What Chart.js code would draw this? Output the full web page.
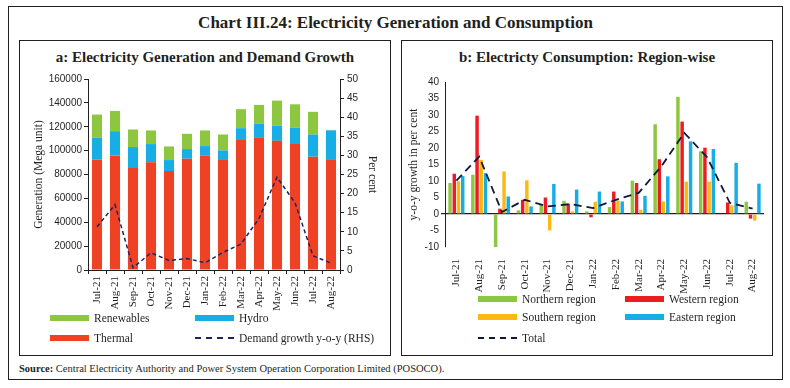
<!DOCTYPE html>
<html lang="en">
<head>
<meta charset="UTF-8">
<title>Chart III.24</title>
<script src="https://cdn.jsdelivr.net/npm/chart.js@4.4.0/dist/chart.umd.min.js"></script>
<style>
  body { margin: 0; background: #fff; font-family: "Liberation Serif", serif; color: #231f20; }
  .frame { position: absolute; left: 8px; top: 6px; width: 775px; height: 374px; border: 1.5px solid #231f20; box-sizing: border-box; }
  .panel { position: absolute; top: 40px; height: 316px; border: 1.5px solid #231f20; box-sizing: border-box; }
  .title { position: absolute; left: 8px; width: 775px; top: 13px; text-align: center; font-weight: bold; font-size: 17px; }
  .ptitle { position: absolute; top: 8px; width: 100%; text-align: center; font-weight: bold; font-size: 15px; }
  .box { position: absolute; }
  .lg { position: absolute; font-size: 11.5px; white-space: nowrap; }
  .lg span.sw { display: inline-block; width: 39px; height: 6px; vertical-align: middle; margin-right: 5px; position: relative; top: -1px; }
  .lg span.dash { display: inline-block; width: 39px; height: 0; border-top: 2px dashed; vertical-align: middle; margin-right: 5px; position: relative; top: -1px; }
  .src { position: absolute; left: 19px; top: 363px; font-size: 10.5px; }
</style>
</head>
<body>
<div class="frame"></div>
<div class="title">Chart III.24: Electricity Generation and Consumption</div>

<div class="panel" style="left:19px; width:372px;">
  <div class="ptitle">a: Electricity Generation and Demand Growth</div>
</div>
<div class="panel" style="left:401px; width:372px;">
  <div class="ptitle">b: Electricty Consumption: Region-wise</div>
</div>

<div class="box" style="left:20px; top:70px; width:370px; height:245px;"><canvas id="genChart"></canvas></div>
<div class="box" style="left:402px; top:70px; width:370px; height:225px;"><canvas id="regChart"></canvas></div>

<div id="legA"></div>
<div id="legB"></div>

<div class="src"><b>Source:</b> Central Electricity Authority and Power System Operation Corporation Limited (POSOCO).</div>

<script>
  // months (same for both panels)
  const months = ['Jul-21', 'Aug-21', 'Sep-21', 'Oct-21', 'Nov-21', 'Dec-21', 'Jan-22',
                  'Feb-22', 'Mar-22', 'Apr-22', 'May-22', 'Jun-22', 'Jul-22', 'Aug-22'];

  // panel a: generation (Mega unit)
  const thermal    = [92400, 96000, 85400, 90200, 82900, 93200, 95700, 92700, 108800, 111300, 108200, 105500, 94900, 92700];
  const hydro      = [18300, 20300, 17600, 15300, 9200, 8100, 8100, 7500, 10000, 11400, 12800, 13600, 18600, 24200];
  const renewables = [19500, 17000, 14700, 11400, 11400, 12800, 13100, 13300, 15900, 15600, 20900, 19700, 19000, 500];
  const demandGrowth = [11.3, 17.1, 0.6, 4.5, 2.5, 3.0, 1.9, 4.6, 6.8, 13.5, 24.3, 17.6, 3.7, 1.8];

  // panel b: y-o-y growth in per cent, by region
  const northern = [9.4, 11.9, -10.0, 1.1, 2.8, 4.0, 0.8, 2.1, 10.1, 27.2, 35.5, 19.0, 0.0, 3.7];
  const western  = [12.2, 29.8, 1.6, 4.3, 5.0, 3.1, -1.0, 6.8, 9.4, 16.6, 28.0, 20.1, 3.5, -1.4];
  const southern = [9.9, 16.4, 12.9, 10.2, -5.0, 0.8, 3.7, 4.1, 1.3, 3.8, 9.8, 9.8, 2.6, -2.0];
  const eastern  = [11.5, 12.4, 5.3, 2.3, 9.1, 7.4, 6.8, 3.8, 5.5, 11.4, 22.0, 19.7, 15.5, 9.2];
  const total    = [10.1, 17.4, 0.6, 4.3, 2.3, 3.0, 1.8, 4.3, 6.4, 14.5, 24.6, 17.2, 3.4, 1.6];

  const INK = '#231f20';
  const tickFont = { family: 'Liberation Sans', size: 10 };
  const catFont = { family: 'Liberation Serif', size: 11 };
  const titleFont = { family: 'Liberation Serif', size: 11.5 };

  // ---------- panel a ----------
  const genData = {
    labels: months,
    datasets: [
      { type: 'line', label: 'Demand growth y-o-y (RHS)', data: demandGrowth, yAxisID: 'y1',
        borderColor: '#1b2563', borderWidth: 1.5, borderDash: [4, 3], pointRadius: 0, tension: 0, order: 0 },
      { label: 'Thermal', data: thermal, backgroundColor: '#ef4123', stack: 's', order: 1 },
      { label: 'Hydro', data: hydro, backgroundColor: '#16aee5', stack: 's', order: 1 },
      { label: 'Renewables', data: renewables, backgroundColor: '#8dc63f', stack: 's', order: 1 }
    ]
  };

  new Chart(document.getElementById('genChart'), {
    type: 'bar',
    data: genData,
    options: {
      responsive: true,
      maintainAspectRatio: false,
      animation: false,
      layout: { padding: { top: 8 } },
      plugins: { legend: { display: false }, tooltip: { enabled: false } },
      datasets: { bar: { barPercentage: 0.56, categoryPercentage: 1 } },
      scales: {
        x: {
          stacked: true,
          grid: { display: true, drawOnChartArea: false, offset: true, tickLength: 4, color: INK },
          border: { color: INK, width: 1 },
          ticks: { font: catFont, color: INK, minRotation: 90, maxRotation: 90, autoSkip: false, padding: 2 },
          afterFit: (s) => { s.height = 45; }
        },
        y: {
          stacked: true,
          min: 0, max: 160000,
          grid: { drawOnChartArea: false, tickLength: 4, color: INK },
          border: { color: INK, width: 1 },
          ticks: { stepSize: 20000, font: tickFont, color: INK, padding: 2, callback: (v) => String(v) },
          title: { display: true, text: 'Generation (Mega unit)', font: titleFont, color: INK, padding: { top: 12 } },
          afterFit: (s) => { s.width = 68; }
        },
        y1: {
          position: 'right',
          min: 0, max: 50,
          grid: { drawOnChartArea: false, tickLength: 4, color: INK },
          border: { color: INK, width: 1 },
          ticks: { stepSize: 5, font: tickFont, color: INK, padding: 3 },
          title: { display: true, text: 'Per cent', font: titleFont, color: INK, padding: { top: 11 } },
          afterFit: (s) => { s.width = 50; }
        }
      }
    }
  });

  // ---------- panel b ----------
  const regData = {
    labels: months,
    datasets: [
      { type: 'line', label: 'Total', data: total, borderColor: '#0d1a3a', borderWidth: 1.8,
        borderDash: [8, 5], pointRadius: 0, tension: 0, order: 0 },
      { label: 'Northern region', data: northern, backgroundColor: '#8dc63f', order: 1 },
      { label: 'Western region', data: western, backgroundColor: '#ed1c24', order: 1 },
      { label: 'Southern region', data: southern, backgroundColor: '#fdb913', order: 1 },
      { label: 'Eastern region', data: eastern, backgroundColor: '#16aee5', order: 1 }
    ]
  };

  new Chart(document.getElementById('regChart'), {
    type: 'bar',
    data: regData,
    options: {
      responsive: true,
      maintainAspectRatio: false,
      animation: false,
      layout: { padding: { top: 12, right: 8 } },
      plugins: { legend: { display: false }, tooltip: { enabled: false } },
      datasets: { bar: { barPercentage: 0.82, categoryPercentage: 0.74 } },
      scales: {
        x: {
          grid: { display: false },
          border: { display: false },
          ticks: { font: catFont, color: INK, minRotation: 90, maxRotation: 90, autoSkip: false, padding: 4 },
          afterFit: (s) => { s.height = 48; }
        },
        y: {
          min: -10, max: 40,
          grid: {
            drawOnChartArea: true, drawTicks: true, tickLength: 4,
            color: (c) => (c.tick && c.tick.value === 0) ? INK : 'rgba(0,0,0,0)',
            lineWidth: 1.2
          },
          border: { color: INK, width: 1 },
          ticks: { stepSize: 5, font: tickFont, color: INK, padding: 2 },
          title: { display: true, text: 'y-o-y growth in per cent', font: titleFont, color: INK, padding: { top: 5 } },
          afterFit: (s) => { s.width = 43; }
        }
      }
    }
  });

  // ---------- legends ----------
  function legendItem(ds, x, y, host) {
    const el = document.createElement('div');
    el.className = 'lg';
    el.style.left = x + 'px';
    el.style.top = y + 'px';
    const mark = document.createElement('span');
    if (ds.type === 'line') {
      mark.className = 'dash';
      mark.style.borderColor = ds.borderColor;
    } else {
      mark.className = 'sw';
      mark.style.background = ds.backgroundColor;
    }
    el.appendChild(mark);
    el.appendChild(document.createTextNode(ds.label));
    host.appendChild(el);
  }

  const legA = document.getElementById('legA');
  const gd = genData.datasets;
  legendItem(gd[3], 50, 312, legA);
  legendItem(gd[2], 195, 312, legA);
  legendItem(gd[1], 50, 332, legA);
  legendItem(gd[0], 195, 332, legA);

  const legB = document.getElementById('legB');
  const rd = regData.datasets;
  legendItem(rd[1], 478, 293, legB);
  legendItem(rd[2], 625, 293, legB);
  legendItem(rd[3], 478, 311, legB);
  legendItem(rd[4], 625, 311, legB);
  legendItem(rd[0], 478, 332, legB);
</script>
</body>
</html>
